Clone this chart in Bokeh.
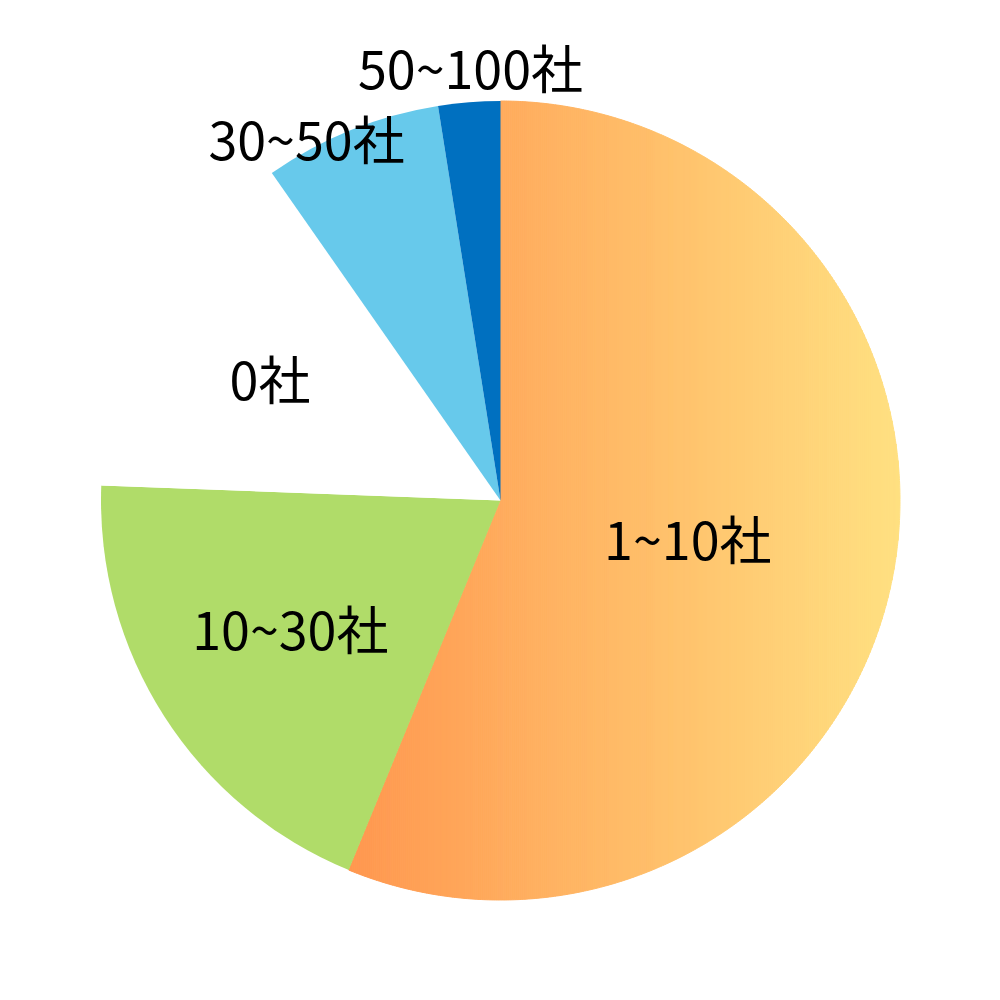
import numpy as np
from bokeh.plotting import figure
from bokeh.models import Range1d, ColumnDataSource
from bokeh.core.properties import value
from bokeh.embed import file_html
from bokeh.resources import INLINE

# ---- data ----
categories = ["1~10社", "10~30社", "0社", "30~50社", "50~100社"]
shares = [56.2, 19.4, 14.7, 7.2, 2.5]

# ---- style ----
slice_colors = [None, "#B0DC69", "#FFFFFF", "#67C9EB", "#0070C0"]
grad_left = (255, 151, 79)
grad_right = (255, 224, 129)
label_r = [192, 248, 259, 407, 430]
label_dtheta = [1.5, 0.7, -1.5, -6.5, 0.5]
label_lift = 5

CX, CY, R = 500.0, 500.0, 399.5

p = figure(width=984, height=984, output_backend="svg", toolbar_location=None,
           x_range=Range1d(0, 984), y_range=Range1d(16, 1000), min_border=0)
p.axis.visible = False
p.grid.visible = False
p.outline_line_color = None
p.background_fill_color = "white"
p.border_fill_color = "white"

vals = np.array(shares, dtype=float)
cum = np.concatenate([[0.0], np.cumsum(vals) / vals.sum() * 360.0])


def clip_half(pts, inside, inter):
    out = []
    n = len(pts)
    for i in range(n):
        a = pts[i]
        b = pts[(i + 1) % n]
        ia, ib = inside(a), inside(b)
        if ia:
            out.append(a)
            if not ib:
                out.append(inter(a, b))
        elif ib:
            out.append(inter(a, b))
    return out


def clip_strip(pts, x0, x1):
    def ix(xc):
        def f(a, b):
            t = (xc - a[0]) / (b[0] - a[0])
            return (xc, a[1] + t * (b[1] - a[1]))
        return f
    r = clip_half(pts, lambda q: q[0] >= x0, ix(x0))
    if not r:
        return r
    r = clip_half(r, lambda q: q[0] <= x1, ix(x1))
    return r


# gradient slice (first)
t0, t1 = cum[0], cum[1]
ts = np.radians(np.linspace(t0, t1, 600))
poly = [(CX, CY)] + [(CX + R * np.sin(t), CY + R * np.cos(t)) for t in ts]
xmin = min(q[0] for q in poly)
xmax = max(q[0] for q in poly)
edges = np.linspace(xmin, xmax, 276)
xs, ys, cols = [], [], []
for a, b in zip(edges[:-1], edges[1:]):
    c = clip_strip(poly, a, b)
    if len(c) < 3:
        continue
    f = ((a + b) / 2 - xmin) / (xmax - xmin)
    rgb = tuple(int(round(grad_left[k] + f * (grad_right[k] - grad_left[k]))) for k in range(3))
    cols.append("#%02x%02x%02x" % rgb)
    xs.append([q[0] for q in c])
    ys.append([q[1] for q in c])
p.patches(xs=xs, ys=ys, fill_color=cols, line_color=cols, line_width=1)

# other slices
for i in range(1, len(shares)):
    p.wedge(x=CX, y=CY, radius=R,
            start_angle=np.radians(90 - cum[i]), end_angle=np.radians(90 - cum[i + 1]),
            direction="clock", fill_color=slice_colors[i], line_color=None)

# labels
mid = (cum[:-1] + cum[1:]) / 2 + np.array(label_dtheta)
lx = CX + np.array(label_r) * np.sin(np.radians(mid))
ly = CY + np.array(label_r) * np.cos(np.radians(mid)) + label_lift
src = ColumnDataSource(dict(x=lx, y=ly, t=categories))
p.text(x="x", y="y", text="t", source=src, text_align="center", text_baseline="middle",
       text_font=value("Noto Sans CJK JP"), text_font_size="52px", text_color="#000000")

open("out.html", "w").write(file_html(p, INLINE))
